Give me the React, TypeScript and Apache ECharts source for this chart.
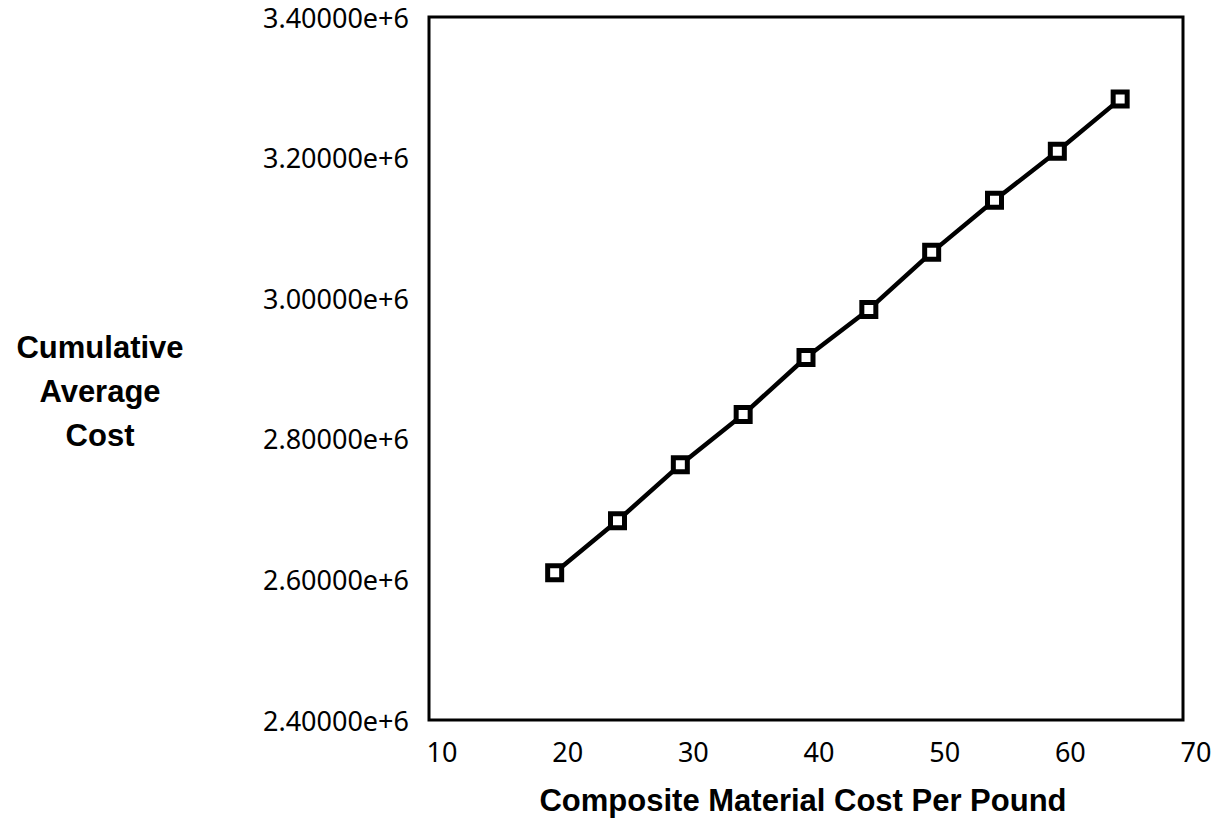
import React, { useEffect, useRef } from "react";
import * as echarts from "echarts";

const costPerPound = [20, 25, 30, 35, 40, 45, 50, 55, 60, 65];
const cumulativeAverageCost = [
  2609400, 2683500, 2763200, 2834500, 2915700, 2984000, 3065200, 3139300, 3209100, 3283200,
];
const xTitle = "Composite Material Cost Per Pound";
const yTitleLines = ["Cumulative", "Average", "Cost"];

export default function App() {
  const ref = useRef<HTMLDivElement>(null);
  useEffect(() => {
    document.body.style.margin = "0";
    const chart = echarts.init(ref.current!, null, { renderer: "svg" });
    const tickFont = { fontFamily: "Noto Sans", fontSize: 27, color: "#000" };
    chart.setOption({
      animation: false,
      backgroundColor: "#fff",
      grid: {
        left: 429,
        top: 17,
        right: 34,
        bottom: 112,
        show: true,
        borderColor: "#000",
        borderWidth: 3,
      },
      xAxis: {
        type: "value",
        min: 10,
        max: 70,
        interval: 10,
        axisLine: { show: false },
        axisTick: { show: false },
        splitLine: { show: false },
        axisLabel: { ...tickFont, margin: 18, padding: [0, 0, 0, 26] },
      },
      yAxis: {
        type: "value",
        min: 2400000,
        max: 3400000,
        interval: 200000,
        axisLine: { show: false },
        axisTick: { show: false },
        splitLine: { show: false },
        axisLabel: {
          ...tickFont,
          margin: 20,
          formatter: (v: number) => v.toExponential(5),
        },
      },
      graphic: [
        {
          type: "text",
          x: 100,
          y: 325,
          style: {
            text: yTitleLines.join("\n"),
            font: "bold 31px 'Liberation Sans', Arial, sans-serif",
            fill: "#000",
            align: "center",
            verticalAlign: "top",
            lineHeight: 44,
          },
        },
        {
          type: "text",
          x: 803,
          y: 800,
          style: {
            text: xTitle,
            font: "bold 31px 'Liberation Sans', Arial, sans-serif",
            fill: "#000",
            align: "center",
            verticalAlign: "middle",
          },
        },
      ],
      series: [
        {
          type: "line",
          data: costPerPound.map((x, i) => [x, cumulativeAverageCost[i]]),
          lineStyle: { color: "#000", width: 4.5 },
          symbol: "rect",
          symbolSize: 14,
          itemStyle: { color: "#fff", borderColor: "#000", borderWidth: 5 },
        },
      ],
    });
    return () => chart.dispose();
  }, []);
  return <div ref={ref} style={{ width: 1217, height: 832 }} />;
}
